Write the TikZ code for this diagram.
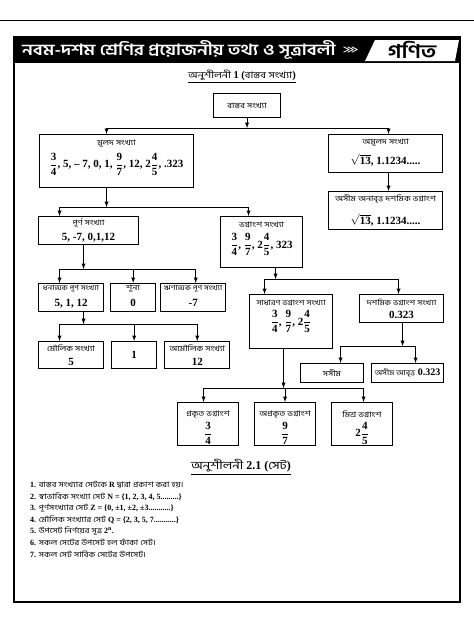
\documentclass[tikz,border=0pt]{standalone}
\usepackage{fontspec}
\setmainfont{Liberation Serif}
\newfontfamily\bn[Script=Bengali]{Hind Siliguri}
\newfontfamily\bnwide[Script=Bengali, FakeStretch=1.2]{Hind Siliguri}
\newfontfamily\sym{DejaVu Sans}
\usetikzlibrary{positioning}
\newcommand{\fr}[2]{$\displaystyle\frac{\textbf{#1}}{\textbf{#2}}$}
\newcommand{\lbl}[2][7.5]{{\bnwide\mdseries\fontsize{#1}{8}\selectfont #2}}
\newcommand{\rt}[1]{$\sqrt{\textbf{#1}}$}

\begin{document}
\begin{tikzpicture}[x=1pt, y=-1pt, >=latex,
    every node/.style = {inner sep=1pt},
    box/.style = {draw, line width=1.1pt, anchor=north west, align=center, inner ysep=3pt,
      font=\bfseries\fontsize{11}{13}\selectfont},
    tb/.style 2 args = {text height=#1, text depth=#2},
    arr/.style = {->, line width=0.9pt}
  ]
\useasboundingbox (0,0) rectangle (474,632);
\draw[line width=0.8pt] (0,20) -- (474,20);
% page frame and header band
\draw[line width=2.5pt] (14,37) rectangle (460,602);
\fill (14,37) rectangle (460,63);
\node[anchor=west, text=white, font=\bnwide\bfseries\fontsize{15.5}{17}\selectfont] (head) at (21,50) {নবম-দশম শ্রেণির প্রয়োজনীয় তথ্য ও সূত্রাবলী};
\node[anchor=west, text=white, font=\sym\fontsize{11}{12}\selectfont] (chev) at ([xshift=5pt]head.east) {⋙};
\fill[white] (375,40) -- (459,40) -- (455,61) -- (365,61) -- cycle;
\node[font=\bnwide\bfseries\fontsize{19}{20}\selectfont] (subj) at (412,50) {গণিত};

\node[font=\bfseries\fontsize{10.5}{12}\selectfont] (title1) at (242,76) {\underline{{\bnwide\mdseries\fontsize{9}{10}\selectfont অনুশীলনী} 1 ({\bnwide\mdseries\fontsize{9}{10}\selectfont বাস্তব সংখ্যা})}};

% number tree
\node[box, minimum width=67, minimum height=24] (real) at (213,93) {\lbl{বাস্তব সংখ্যা}};
\node[box, minimum width=154, tb={30pt}{17pt}] (rat) at (39,134) {\lbl{মূলদ সংখ্যা}\\[5pt] \fr{3}{4}, 5, – 7, 0, 1, \fr{9}{7}, 12, 2\fr{4}{5}, .323};
\node[box, minimum width=114, tb={26.5pt}{5.5pt}] (irr) at (328,134) {\lbl{অমূলদ সংখ্যা}\\[7pt] \rt{13}, 1.1234.....};
\node[box, minimum width=114, tb={29.5pt}{2.5pt}] (nonrep) at (328,191) {\lbl{অসীম অনাবৃত্ত দশমিক ভগ্নাংশ}\\[10pt] \rt{13}, 1.1234.....};
\node[box, minimum width=100, tb={20.5pt}{1.5pt}] (int) at (38,216) {\lbl{পূর্ণ সংখ্যা}\\[2pt] 5, -7, 0,1,12};
\node[box, minimum width=82, tb={28.5pt}{16.5pt}] (frac) at (220,216) {\lbl{ভগ্নাংশ সংখ্যা}\\[5pt] \fr{3}{4}, \fr{9}{7}, 2\fr{4}{5}, 323};
\node[box, minimum width=65, tb={19.5pt}{2.5pt}] (pos) at (38,283) {\lbl[6.9]{ধনাত্মক পূর্ণ সংখ্যা}\\[3pt] 5, 1, 12};
\node[box, minimum width=45, tb={19.5pt}{2.5pt}] (zero) [right=6pt of pos] {\lbl{শূন্য}\\[3pt] 0};
\node[box, minimum width=65, tb={19.5pt}{2.5pt}] (neg) [right=4pt of zero] {\lbl[6.9]{ঋণাত্মক পূর্ণ সংখ্যা}\\[3pt] -7};
\node[box, minimum width=65, tb={20.5pt}{0.5pt}] (prime) at (38,341) {\lbl{মৌলিক সংখ্যা}\\[1pt] 5};
\node[box, minimum width=45, minimum height=27] (one) [right=7pt of prime] {1};
\node[box, minimum width=65, tb={20.5pt}{0.5pt}] (comp) [right=7pt of one] {\lbl{অমৌলিক সংখ্যা}\\[1pt] 12};
\node[box, minimum width=83, tb={27.5pt}{20.5pt}] (common) at (249,294) {\lbl[7.2]{সাধারণ ভগ্নাংশ সংখ্যা}\\[4pt] \fr{3}{4}, \fr{9}{7}, 2\fr{4}{5}};
\node[box, minimum width=84, tb={20.5pt}{1.5pt}] (dec) at (359,294) {\lbl[7.2]{দশমিক ভগ্নাংশ সংখ্যা}\\ 0.323};
\node[box, minimum width=63, minimum height=19] (term) at (300,363) {\lbl{সসীম}};
\node[box, minimum width=72, minimum height=19] (rec) at (371,363) {\lbl[7]{অসীম আবৃত্ত} {\fontsize{10}{11}\selectfont 0.323}};
\node[box, minimum width=61, tb={31pt}{6pt}] (proper) at (177,402) {\lbl{প্রকৃত ভগ্নাংশ}\\[3pt] \fr{3}{4}};
\node[box, minimum width=61, tb={31pt}{6pt}] (improper) at (254,402) {\lbl{অপ্রকৃত ভগ্নাংশ}\\[3pt] \fr{9}{7}};
\node[box, minimum width=61, tb={31pt}{6pt}] (mixed) at (331,402) {\lbl{মিশ্র ভগ্নাংশ}\\[3pt] 2\fr{4}{5}};

% connectors
\coordinate (j1) at ([yshift=-10pt]real.south);
\draw[arr] (real) -- (j1);
\draw[arr] (j1) -| ([xshift=-10pt]rat.north);
\draw[arr] (j1) -| ([xshift=3pt]irr.north);
\draw[arr] ([xshift=3pt]irr.south) -- ([xshift=3pt]nonrep.north);

\coordinate (j2) at ([xshift=-10pt,yshift=-19pt]rat.south);
\draw[arr] ([xshift=-10pt]rat.south) -- (j2);
\draw[arr] (j2) -| ([xshift=-29pt]int.north);
\draw[arr] (j2) -| ([xshift=-13pt]frac.north);

\coordinate (j3) at ([xshift=-5pt,yshift=-24pt]int.south);
\draw[arr] ([xshift=-5pt]int.south) -- (j3);
\draw[arr] (j3) -| ([xshift=-11.5pt]pos.north);
\draw[arr] (j3) -| (zero.north);
\draw[arr] (j3) -| ([xshift=2.5pt]neg.north);

\coordinate (j4) at ([xshift=12.5pt,yshift=-12pt]pos.south);
\draw[arr] ([xshift=12.5pt]pos.south) -- (j4);
\draw[arr] (j4) -| ([xshift=-11.5pt]prime.north);
\draw[arr] (j4) -| (one.north);
\draw[arr] (j4) -| (comp.north);

\coordinate (j5) at ([xshift=14pt,yshift=-11pt]frac.south);
\draw[arr] ([xshift=14pt]frac.south) -- (j5);
\draw[arr] (j5) -| ([xshift=-26.5pt]common.north);
\draw[arr] (j5) -| ([xshift=-3pt]dec.north);

\coordinate (j6) at ([xshift=1pt,yshift=-23pt]dec.south);
\draw[arr] ([xshift=1pt]dec.south) -- (j6);
\draw[arr] (j6) -| ([xshift=8.5pt]term.north);
\draw[arr] (j6) -| ([xshift=8pt]rec.north);

\coordinate (j7) at ([xshift=-7.5pt,yshift=-39pt]common.south);
\draw[arr] ([xshift=-7.5pt]common.south) -- (j7);
\draw[arr] (j7) -| ([xshift=-4.5pt]proper.north);
\draw[arr] (j7) -| (improper.north);
\draw[arr] (j7) -| ([xshift=1.5pt]mixed.north);

% sets
\node[font=\bfseries\fontsize{12}{13}\selectfont] (title2) at (241,467) {\underline{{\bnwide\mdseries\fontsize{11}{12}\selectfont অনুশীলনী} 2.1 ({\bnwide\mdseries\fontsize{11}{12}\selectfont সেট})}};
\node[anchor=north west, align=left, font=\bfseries\fontsize{8}{11.6}\selectfont] (facts) at (29,480) {%
1. \lbl{বাস্তব সংখ্যার সেটকে} R \lbl{দ্বারা প্রকাশ করা হয়।}\\
2. \lbl{স্বাভাবিক সংখ্যা সেট} N = \{1, 2, 3, 4, 5.........\}\\
3. \lbl{পূর্ণসংখ্যার সেট} Z = \{0, ±1, ±2, ±3...........\}\\
4. \lbl{মৌলিক সংখ্যার সেট} Q = \{2, 3, 5, 7...........\}\\
5. \lbl{উপসেট নির্ণয়ের সূত্র} 2\textsuperscript{n}.\\
6. \lbl{সকল সেটের উপসেট হল ফাঁকা সেট।}\\
7. \lbl{সকল সেট সার্বিক সেটের উপসেট।}};
\end{tikzpicture}
\end{document}
